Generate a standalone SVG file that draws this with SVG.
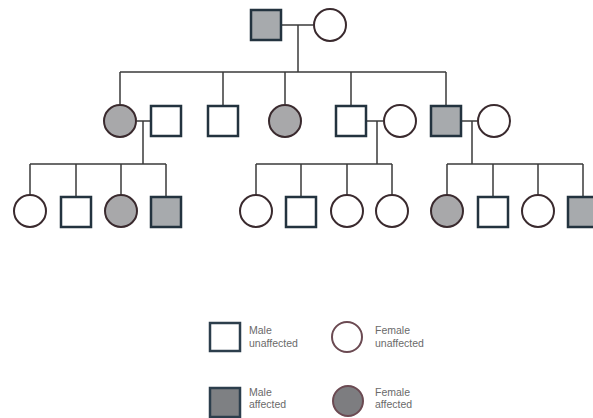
<svg xmlns="http://www.w3.org/2000/svg" width="593" height="418" viewBox="0 0 593 418">
<style>
.m{fill:#ffffff;stroke:#23333f;stroke-width:2.5}
.ma{fill:#a7aaad;stroke:#23333f;stroke-width:2.5}
.f{fill:#ffffff;stroke:#3a2a2e;stroke-width:2}
.fa{fill:#a8a8aa;stroke:#3a2a2e;stroke-width:2}
.lm{fill:#ffffff;stroke:#2c3e4c;stroke-width:2.5}
.lma{fill:#7e8083;stroke:#2c3e4c;stroke-width:2.5}
.lf{fill:#ffffff;stroke:#6b4a52;stroke-width:2}
.lfa{fill:#7d7d80;stroke:#6b4a52;stroke-width:2}
.c line,.c path{stroke:#3a3a3a;stroke-width:1.5;fill:none}
.t{font-family:"Liberation Sans",Arial,sans-serif;font-size:10.5px;fill:#6a6a6a}
</style>
<rect width="593" height="418" fill="#ffffff"/>
<g class="c" id="connectors">
<line x1="281" y1="25" x2="313" y2="25"/>
<line x1="298" y1="25" x2="298" y2="72"/>
<line x1="120" y1="72" x2="446" y2="72"/>
<line x1="120" y1="72" x2="120" y2="104"/>
<line x1="223" y1="72" x2="223" y2="106"/>
<line x1="285" y1="72" x2="285" y2="104"/>
<line x1="351" y1="72" x2="351" y2="106"/>
<line x1="446" y1="72" x2="446" y2="106"/>
<line x1="137" y1="121" x2="151" y2="121"/>
<line x1="143" y1="121" x2="143" y2="164"/>
<line x1="366" y1="121" x2="383" y2="121"/>
<line x1="377" y1="121" x2="377" y2="164"/>
<line x1="461" y1="121" x2="477" y2="121"/>
<line x1="472" y1="121" x2="472" y2="164"/>
<line x1="30" y1="164" x2="166" y2="164"/>
<line x1="30" y1="164" x2="30" y2="195"/>
<line x1="76" y1="164" x2="76" y2="197"/>
<line x1="121" y1="164" x2="121" y2="195"/>
<line x1="166" y1="164" x2="166" y2="197"/>
<line x1="256" y1="164" x2="392" y2="164"/>
<line x1="256" y1="164" x2="256" y2="195"/>
<line x1="301" y1="164" x2="301" y2="197"/>
<line x1="347" y1="164" x2="347" y2="195"/>
<line x1="392" y1="164" x2="392" y2="195"/>
<line x1="447" y1="164" x2="583" y2="164"/>
<line x1="447" y1="164" x2="447" y2="195"/>
<line x1="493" y1="164" x2="493" y2="197"/>
<line x1="538" y1="164" x2="538" y2="195"/>
<line x1="583" y1="164" x2="583" y2="197"/>
</g>
<g id="g1-father"><rect class="ma" x="251" y="10" width="30" height="30"/></g>
<g id="g1-mother"><circle class="f" cx="330" cy="25" r="16"/></g>
<g id="g2-daughter1"><circle class="fa" cx="120" cy="121" r="16"/></g>
<g id="g2-spouse1"><rect class="m" x="151" y="106" width="30" height="30"/></g>
<g id="g2-son1"><rect class="m" x="208" y="106" width="30" height="30"/></g>
<g id="g2-daughter2"><circle class="fa" cx="285" cy="121" r="16"/></g>
<g id="g2-son2"><rect class="m" x="336" y="106" width="30" height="30"/></g>
<g id="g2-spouse2"><circle class="f" cx="400" cy="121" r="16"/></g>
<g id="g2-son3"><rect class="ma" x="431" y="106" width="30" height="30"/></g>
<g id="g2-spouse3"><circle class="f" cx="494" cy="121" r="16"/></g>
<g id="g3-a1"><circle class="f" cx="30" cy="211" r="16"/></g>
<g id="g3-a2"><rect class="m" x="61" y="197" width="30" height="30"/></g>
<g id="g3-a3"><circle class="fa" cx="121" cy="211" r="16"/></g>
<g id="g3-a4"><rect class="ma" x="151" y="197" width="30" height="30"/></g>
<g id="g3-b1"><circle class="f" cx="256" cy="211" r="16"/></g>
<g id="g3-b2"><rect class="m" x="286" y="197" width="30" height="30"/></g>
<g id="g3-b3"><circle class="f" cx="347" cy="211" r="16"/></g>
<g id="g3-b4"><circle class="f" cx="392" cy="211" r="16"/></g>
<g id="g3-c1"><circle class="fa" cx="447" cy="211" r="16"/></g>
<g id="g3-c2"><rect class="m" x="478" y="197" width="30" height="30"/></g>
<g id="g3-c3"><circle class="f" cx="538" cy="211" r="16"/></g>
<g id="g3-c4"><rect class="ma" x="568" y="197" width="30" height="30"/></g>
<g id="legend-male-unaffected">
<rect class="lm" x="210" y="323" width="30" height="28"/>
<text class="t" x="249" y="334">Male</text>
<text class="t" x="249" y="347">unaffected</text>
</g>
<g id="legend-female-unaffected">
<circle class="lf" cx="347" cy="337" r="15"/>
<text class="t" x="375" y="334">Female</text>
<text class="t" x="375" y="347">unaffected</text>
</g>
<g id="legend-male-affected">
<rect class="lma" x="210" y="388" width="30" height="29"/>
<text class="t" x="249" y="396">Male</text>
<text class="t" x="249" y="408">affected</text>
</g>
<g id="legend-female-affected">
<circle class="lfa" cx="348" cy="401" r="15"/>
<text class="t" x="375" y="396">Female</text>
<text class="t" x="375" y="408">affected</text>
</g>
</svg>
